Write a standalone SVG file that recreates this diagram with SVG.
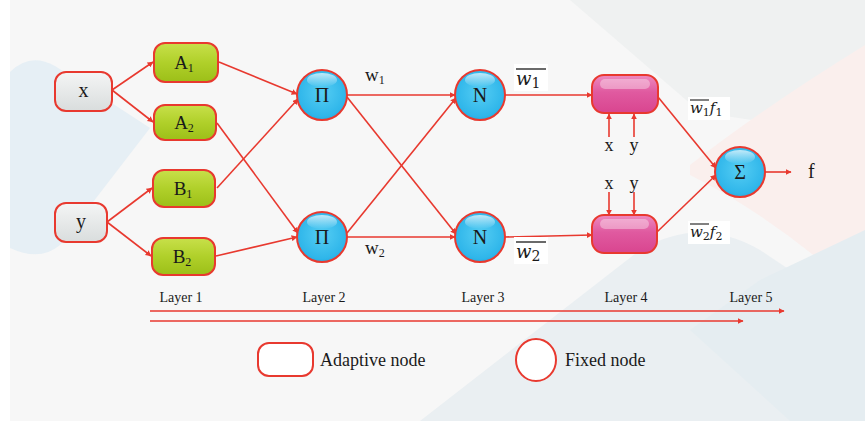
<svg xmlns="http://www.w3.org/2000/svg" width="865" height="426" viewBox="0 0 865 426">
<defs>
<style>
.ln{stroke:#e8392f;stroke-width:1.6;fill:none}
.ar{stroke:#e8392f;stroke-width:1.6;fill:none;marker-end:url(#ah)}
.t{font-family:"Liberation Serif","Times New Roman",serif;fill:#1a1a1a}
.m{font-family:"DejaVu Serif","Liberation Serif",serif;font-style:italic;fill:#1a1a1a}
.nd{stroke:#e8392f;stroke-width:2}
</style>
<marker id="ah" viewBox="0 0 10 10" refX="9" refY="5" markerWidth="6" markerHeight="6" orient="auto" markerUnits="userSpaceOnUse"><path d="M0,0 L10,5 L0,10 z" fill="#e8392f"/></marker>
<linearGradient id="gG" x1="0" y1="0" x2="0" y2="1"><stop offset="0" stop-color="#c8e04a"/><stop offset="0.5" stop-color="#b0d02a"/><stop offset="1" stop-color="#9cbf18"/></linearGradient>
<linearGradient id="gX" x1="0" y1="0" x2="0" y2="1"><stop offset="0" stop-color="#f4f5f5"/><stop offset="1" stop-color="#d9dddd"/></linearGradient>
<linearGradient id="gP" x1="0" y1="0" x2="0" y2="1"><stop offset="0" stop-color="#ee8ac0"/><stop offset="0.45" stop-color="#e05aa0"/><stop offset="1" stop-color="#d9458f"/></linearGradient>
<radialGradient id="gB" cx="0.5" cy="0.45" r="0.6"><stop offset="0" stop-color="#55cdf3"/><stop offset="0.8" stop-color="#2fb6ea"/><stop offset="1" stop-color="#1ea6dc"/></radialGradient>
<linearGradient id="gH" x1="0" y1="0" x2="0" y2="1"><stop offset="0" stop-color="#ffffff" stop-opacity="0.7"/><stop offset="1" stop-color="#ffffff" stop-opacity="0"/></linearGradient>
</defs>
<rect x="0" y="0" width="865" height="426" fill="#ffffff"/>
<rect x="10" y="0" width="855" height="421" fill="#f7f7f7"/>
<g id="background">
<path d="M10,72 Q30,52 55,66 L150,128 L60,245 Q40,262 10,248 Z" fill="#e6eff5"/>
<path d="M570,0 L865,0 L865,135 Q780,125 700,112 Z" fill="#eff1f1"/>
<path d="M690,165 Q760,110 865,45 L865,300 Q780,220 690,175 Z" fill="#faefed"/>
<path d="M420,421 L640,250 Q700,215 760,250 L865,320 L865,421 Z" fill="#eaeff2"/>
<path d="M690,330 L760,280 L865,230 L865,421 L790,421 Z" fill="#e5edf1"/>
</g>
<g id="connectors">
<line class="ar" x1="112" y1="90" x2="153" y2="62"/>
<line class="ar" x1="112" y1="90" x2="153" y2="122"/>
<line class="ar" x1="107" y1="222" x2="152" y2="188"/>
<line class="ar" x1="107" y1="222" x2="151" y2="256"/>
<line class="ar" x1="219" y1="62" x2="297" y2="94"/>
<line class="ar" x1="217" y1="188" x2="298" y2="99"/>
<line class="ar" x1="217" y1="123" x2="298" y2="233"/>
<line class="ar" x1="216" y1="256" x2="297" y2="237"/>
<line class="ar" x1="347" y1="95" x2="455" y2="95"/>
<line class="ar" x1="347" y1="97" x2="456" y2="234"/>
<line class="ar" x1="347" y1="233" x2="456" y2="98"/>
<line class="ar" x1="347" y1="237" x2="455" y2="237"/>
<line class="ar" x1="505" y1="95" x2="592" y2="95"/>
<line class="ar" x1="505" y1="237" x2="592" y2="235"/>
<line class="ar" x1="658" y1="97" x2="716" y2="168"/>
<line class="ar" x1="657" y1="232" x2="716" y2="175"/>
<line class="ar" x1="765" y1="172" x2="791" y2="172"/>
<line class="ar" x1="609" y1="137" x2="609" y2="114"/>
<line class="ar" x1="634" y1="137" x2="634" y2="114"/>
<line class="ar" x1="609" y1="192" x2="609" y2="215"/>
<line class="ar" x1="634" y1="192" x2="634" y2="215"/>
<line class="ar" x1="150" y1="311" x2="784" y2="311"/>
<line class="ar" x1="150" y1="321" x2="743" y2="321"/>
</g>
<g id="node-x"><rect class="nd" x="55" y="72" width="57" height="39" rx="11" fill="url(#gX)"/><text class="t" x="83.5" y="97" font-size="20" text-anchor="middle">x</text></g>
<g id="node-y"><rect class="nd" x="55" y="203" width="52" height="39" rx="11" fill="url(#gX)"/><text class="t" x="81" y="228" font-size="20" text-anchor="middle">y</text></g>
<g id="node-A1"><rect class="nd" x="154" y="43" width="64" height="39" rx="11" fill="url(#gG)"/><text class="t" x="184" y="69" font-size="19" text-anchor="middle">A<tspan font-size="12" dy="3">1</tspan></text></g>
<g id="node-A2"><rect class="nd" x="154" y="105" width="62" height="35" rx="11" fill="url(#gG)"/><text class="t" x="184" y="129" font-size="19" text-anchor="middle">A<tspan font-size="12" dy="3">2</tspan></text></g>
<g id="node-B1"><rect class="nd" x="153" y="170" width="62" height="37" rx="11" fill="url(#gG)"/><text class="t" x="183" y="195" font-size="19" text-anchor="middle">B<tspan font-size="12" dy="3">1</tspan></text></g>
<g id="node-B2"><rect class="nd" x="152" y="238" width="63" height="37" rx="11" fill="url(#gG)"/><text class="t" x="182" y="263" font-size="19" text-anchor="middle">B<tspan font-size="12" dy="3">2</tspan></text></g>
<g id="node-P1"><circle class="nd" cx="322" cy="95" r="25" fill="url(#gB)"/><ellipse cx="322" cy="80" rx="15" ry="7" fill="url(#gH)"/><text class="t" x="322" y="102" font-size="20" text-anchor="middle">Π</text></g>
<g id="node-P2"><circle class="nd" cx="322" cy="237" r="25" fill="url(#gB)"/><ellipse cx="322" cy="222" rx="15" ry="7" fill="url(#gH)"/><text class="t" x="322" y="244" font-size="20" text-anchor="middle">Π</text></g>
<g id="node-N1"><circle class="nd" cx="480" cy="95" r="25" fill="url(#gB)"/><ellipse cx="480" cy="80" rx="15" ry="7" fill="url(#gH)"/><text class="t" x="480" y="102" font-size="20" text-anchor="middle">N</text></g>
<g id="node-N2"><circle class="nd" cx="480" cy="237" r="25" fill="url(#gB)"/><ellipse cx="480" cy="222" rx="15" ry="7" fill="url(#gH)"/><text class="t" x="480" y="244" font-size="20" text-anchor="middle">N</text></g>
<g id="node-L4a"><rect class="nd" x="592" y="75" width="66" height="38" rx="12" fill="url(#gP)"/><rect x="600" y="79" width="50" height="10" rx="5" fill="#ffffff" opacity="0.35"/></g>
<g id="node-L4b"><rect class="nd" x="592" y="215" width="65" height="38" rx="12" fill="url(#gP)"/><rect x="600" y="219" width="49" height="10" rx="5" fill="#ffffff" opacity="0.35"/></g>
<g id="node-S"><circle class="nd" cx="740" cy="172" r="25" fill="url(#gB)"/><ellipse cx="740" cy="157" rx="15" ry="7" fill="url(#gH)"/><text class="t" x="740" y="179" font-size="20" text-anchor="middle">Σ</text></g>
<g id="labels">
<text class="t" x="365" y="81" font-size="19">w<tspan font-size="12" dy="3">1</tspan></text>
<text class="t" x="365" y="254" font-size="19">w<tspan font-size="12" dy="3">2</tspan></text>
<rect x="514" y="64" width="34" height="27" fill="#ffffff"/>
<text class="m" x="516" y="85" font-size="18">w<tspan font-style="normal" font-size="14" dy="3">1</tspan></text>
<line x1="516" y1="69" x2="546" y2="69" stroke="#1a1a1a" stroke-width="1.3"/>
<rect x="514" y="237" width="34" height="27" fill="#ffffff"/>
<text class="m" x="516" y="258" font-size="18">w<tspan font-style="normal" font-size="14" dy="3">2</tspan></text>
<line x1="516" y1="242" x2="546" y2="242" stroke="#1a1a1a" stroke-width="1.3"/>
<rect x="688" y="97" width="42" height="23" fill="#ffffff"/>
<text class="m" x="690" y="113" font-size="15">w<tspan font-style="normal" font-size="11" dy="3">1</tspan><tspan dy="-3">f</tspan><tspan font-style="normal" font-size="11" dy="3">1</tspan></text>
<line x1="690" y1="100" x2="709" y2="100" stroke="#1a1a1a" stroke-width="1.1"/>
<rect x="688" y="221" width="42" height="23" fill="#ffffff"/>
<text class="m" x="690" y="237" font-size="15">w<tspan font-style="normal" font-size="11" dy="3">2</tspan><tspan dy="-3">f</tspan><tspan font-style="normal" font-size="11" dy="3">2</tspan></text>
<line x1="690" y1="224" x2="709" y2="224" stroke="#1a1a1a" stroke-width="1.1"/>
<text class="t" x="609" y="151" font-size="18" text-anchor="middle">x</text>
<text class="t" x="634" y="151" font-size="18" text-anchor="middle">y</text>
<text class="t" x="609" y="189" font-size="18" text-anchor="middle">x</text>
<text class="t" x="634" y="189" font-size="18" text-anchor="middle">y</text>
<text class="t" x="808" y="178" font-size="20">f</text>
<text class="t" x="181" y="302" font-size="14" text-anchor="middle">Layer 1</text>
<text class="t" x="324" y="302" font-size="14" text-anchor="middle">Layer 2</text>
<text class="t" x="483" y="302" font-size="14" text-anchor="middle">Layer 3</text>
<text class="t" x="626" y="302" font-size="14" text-anchor="middle">Layer 4</text>
<text class="t" x="751" y="302" font-size="14" text-anchor="middle">Layer 5</text>
</g>
<g id="legend">
<rect x="258" y="343" width="55" height="33" rx="11" fill="#ffffff" stroke="#e8392f" stroke-width="2"/>
<text class="t" x="320" y="366" font-size="18">Adaptive node</text>
<ellipse cx="536" cy="360" rx="20" ry="21" fill="#ffffff" stroke="#e8392f" stroke-width="2"/>
<text class="t" x="565" y="366" font-size="18">Fixed node</text>
</g>
</svg>
